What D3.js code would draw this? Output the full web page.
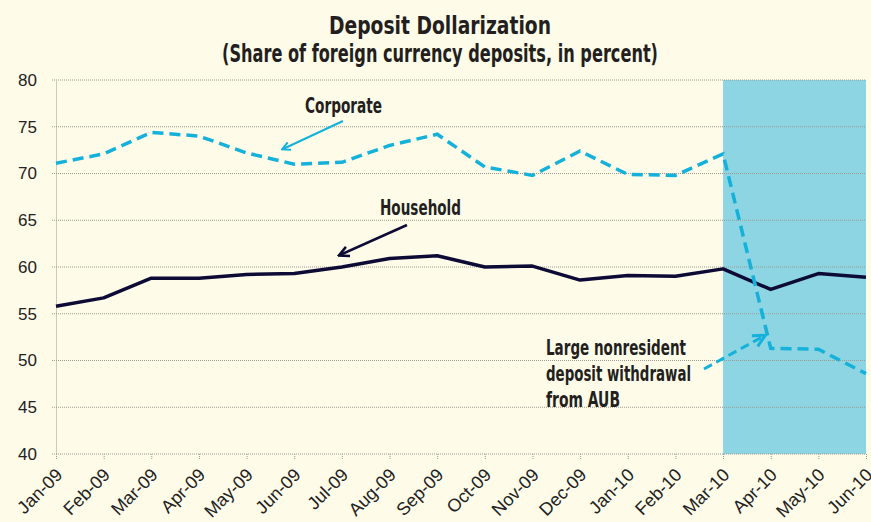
<!DOCTYPE html>
<html>
<head>
<meta charset="utf-8">
<script src="https://cdn.jsdelivr.net/npm/d3@7"></script>
<style>
  body { margin: 0; background: #fefbe9; }
  svg { display: block; }
</style>
</head>
<body>
<div id="chart"></div>
<script>
const months = ["Jan-09","Feb-09","Mar-09","Apr-09","May-09","Jun-09","Jul-09","Aug-09","Sep-09",
  "Oct-09","Nov-09","Dec-09","Jan-10","Feb-10","Mar-10","Apr-10","May-10","Jun-10"];
const household = [55.8,56.7,58.8,58.8,59.2,59.3,60.0,60.9,61.2,60.0,60.1,58.6,59.1,59.0,59.8,57.6,59.3,58.9];
const corporate = [71.1,72.1,74.4,74.0,72.2,71.0,71.2,73.0,74.2,70.7,69.8,72.4,69.9,69.8,72.1,51.3,51.2,48.6];
const yTicks = [40,45,50,55,60,65,70,75,80];
const shadeFrom = "Mar-10";

const width = 871, height = 522;
const margin = {top: 80, right: 5, bottom: 68, left: 56};
const condensed = "'DejaVu Sans', sans-serif";

const svg = d3.select("#chart").append("svg")
  .attr("width", width).attr("height", height);

svg.append("rect").attr("width", width).attr("height", height).attr("fill", "#fefbe9");

const x = d3.scalePoint()
  .domain(months)
  .range([margin.left, width - margin.right]);

const y = d3.scaleLinear()
  .domain([40, 80])
  .range([height - margin.bottom, margin.top]);

// shaded period
svg.append("rect")
  .attr("x", x(shadeFrom))
  .attr("y", y(80))
  .attr("width", x(months[months.length - 1]) - x(shadeFrom))
  .attr("height", y(40) - y(80))
  .attr("fill", "#8dd5e2");

// grid
svg.append("g")
  .selectAll("line")
  .data(yTicks)
  .join("line")
    .attr("x1", margin.left - 4)
    .attr("x2", x(months[months.length - 1]))
    .attr("y1", d => y(d))
    .attr("y2", d => y(d))
    .attr("stroke", "#9a9a90")
    .attr("stroke-width", 1)
    .attr("stroke-dasharray", "1,1");

// y axis
const yAxis = g => g
  .attr("transform", `translate(${margin.left},0)`)
  .call(d3.axisLeft(y).tickValues(yTicks).tickSize(0).tickPadding(19))
  .call(g => g.select(".domain").attr("stroke", "#9a9a90").attr("stroke-dasharray", "1,1"))
  .call(g => g.selectAll("text")
      .attr("font-family", "'Liberation Sans', Arial, sans-serif")
      .attr("font-size", 17)
      .attr("fill", "#222"));

// x axis
const xAxis = g => g
  .attr("transform", `translate(0,${y(40)})`)
  .call(d3.axisBottom(x).tickSize(6).tickSizeOuter(0))
  .call(g => g.select(".domain").remove())
  .call(g => g.selectAll(".tick line").attr("stroke", "#9a9a90").attr("stroke-dasharray", "1,1"))
  .call(g => g.selectAll("text")
      .attr("font-family", "'Liberation Sans', Arial, sans-serif")
      .attr("font-size", 18)
      .attr("fill", "#222")
      .attr("text-anchor", "end")
      .attr("dy", null)
      .attr("transform", "translate(7,22) rotate(-45)")
      .attr("x", 0).attr("y", 0));

svg.append("g").call(yAxis);
svg.append("g").call(xAxis);

const line = d3.line()
  .x((d, i) => x(months[i]))
  .y(d => y(d));

svg.append("path")
  .datum(household)
  .attr("fill", "none")
  .attr("stroke", "#0d0b36")
  .attr("stroke-width", 3.5)
  .attr("stroke-linejoin", "round")
  .attr("d", line);

svg.append("path")
  .datum(corporate)
  .attr("fill", "none")
  .attr("stroke", "#14b1da")
  .attr("stroke-width", 3.5)
  .attr("stroke-dasharray", "11,6")
  .attr("d", line);

// title, squeezed to look like the condensed face of the original
svg.append("g")
  .attr("font-family", condensed)
  .attr("font-weight", "bold")
  .attr("font-size", 24)
  .attr("fill", "#231f20")
  .attr("text-anchor", "middle")
  .selectAll("text")
  .data([
    {t: "Deposit Dollarization", w: 222},
    {t: "(Share of foreign currency deposits, in percent)", w: 436}
  ])
  .join("text")
    .attr("x", 440)
    .attr("y", (d, i) => 34 + i * 28)
    .attr("textLength", d => d.w)
    .attr("lengthAdjust", "spacingAndGlyphs")
    .text(d => d.t);

// annotations
const defs = svg.append("defs");
function marker(id, color) {
  defs.append("marker")
    .attr("id", id)
    .attr("viewBox", "0 0 10 10")
    .attr("refX", 8).attr("refY", 5)
    .attr("markerWidth", 5).attr("markerHeight", 5)
    .attr("orient", "auto")
    .append("path")
      .attr("d", "M1,1 L9,5 L1,9")
      .attr("fill", "none")
      .attr("stroke", color)
      .attr("stroke-width", 2);
}
marker("arrCyan", "#14b1da");
marker("arrNavy", "#0d0b36");

const notes = [
  {t: "Corporate", x: 305, y: 113, w: 77},
  {t: "Household", x: 380, y: 215, w: 81},
  {t: "Large nonresident", x: 546, y: 355, w: 140},
  {t: "deposit withdrawal", x: 546, y: 381, w: 145},
  {t: "from AUB", x: 546, y: 407, w: 74}
];

svg.append("g")
  .attr("font-family", condensed)
  .attr("font-weight", "bold")
  .attr("font-size", 21)
  .attr("fill", "#231f20")
  .selectAll("text")
  .data(notes)
  .join("text")
    .attr("x", d => d.x)
    .attr("y", d => d.y)
    .attr("textLength", d => d.w)
    .attr("lengthAdjust", "spacingAndGlyphs")
    .text(d => d.t);

svg.append("line")
  .attr("x1", 343).attr("y1", 121).attr("x2", 283).attr("y2", 149)
  .attr("stroke", "#14b1da").attr("stroke-width", 2)
  .attr("marker-end", "url(#arrCyan)");
svg.append("line")
  .attr("x1", 407).attr("y1", 225).attr("x2", 340).attr("y2", 255)
  .attr("stroke", "#0d0b36").attr("stroke-width", 2.5)
  .attr("marker-end", "url(#arrNavy)");
svg.append("line")
  .attr("x1", 704).attr("y1", 369).attr("x2", 764).attr("y2", 336)
  .attr("stroke", "#14b1da").attr("stroke-width", 3)
  .attr("stroke-dasharray", "9,5")
  .attr("marker-end", "url(#arrCyan)");
</script>
</body>
</html>
